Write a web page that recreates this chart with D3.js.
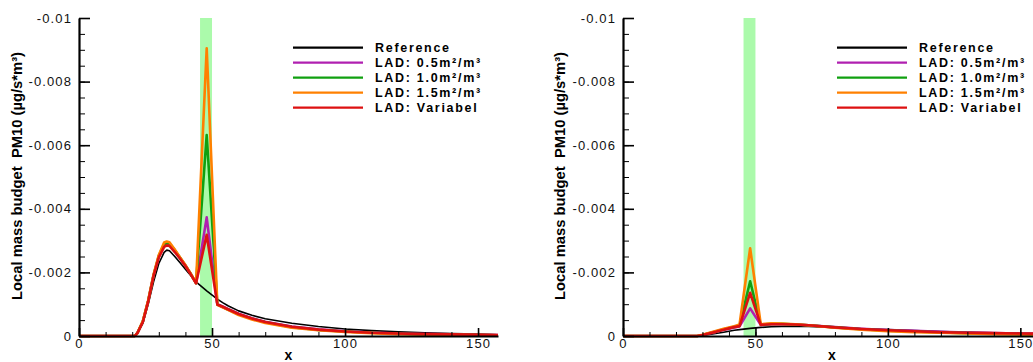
<!DOCTYPE html>
<html>
<head>
<meta charset="utf-8">
<script src="https://cdn.jsdelivr.net/npm/d3@7"></script>
<style>
html,body{margin:0;padding:0;background:#fff;}
svg{display:block;}
</style>
</head>
<body>
<svg id="chart" width="1033" height="362"></svg>
<script>
// ---------- DATA ----------
const seriesNames = ["Reference", "LAD: 0.5m²/m³", "LAD: 1.0m²/m³", "LAD: 1.5m²/m³", "LAD: Variabel"];
const seriesColors = ["#000000", "#b020b0", "#10a010", "#ff8000", "#dd1111"];

const yTickValues = [0, -0.002, -0.004, -0.006, -0.008, -0.01];
const xTickValues = [0, 50, 100, 150];
const yTitle = "Local mass budget\u00a0 PM10 (µg/s*m³)";
const xTitle = "x";

// Left panel
const xLeft = [0, 10, 20, 21, 22, 24, 26, 28, 30, 32, 33, 34, 36, 38, 40, 42, 44, 48, 52, 54, 56, 60, 65, 70, 80, 90, 100, 110, 120, 130, 140, 150, 157.5];
const refLeft    = [0, 0, 0, 0, -0.0001, -0.0004, -0.001, -0.0017, -0.00228, -0.00263, -0.0027, -0.00268, -0.0025, -0.0023, -0.0021, -0.0019, -0.0017, -0.00142, -0.00116, -0.00105, -0.00095, -0.00079, -0.00065, -0.00054, -0.0004, -0.0003, -0.00022, -0.00017, -0.00013, -0.0001, -0.00008, -0.00006, -0.00004];
const lad05Left  = [0, 0, 0, 0, -0.0001, -0.00045, -0.0011, -0.0019, -0.0025, -0.00285, -0.0029, -0.00288, -0.00268, -0.00245, -0.00222, -0.00195, -0.00166, -0.00373, -0.001, -0.00093, -0.00085, -0.0007, -0.00056, -0.00045, -0.0003, -0.00021, -0.00015, -0.00011, -0.00008, -0.00006, -0.00005, -0.00004, -0.00003];
const lad10Left  = [0, 0, 0, 0, -0.0001, -0.00046, -0.0011, -0.0019, -0.00252, -0.00289, -0.00293, -0.00291, -0.0027, -0.00246, -0.00222, -0.00195, -0.00166, -0.00632, -0.00099, -0.00091, -0.00083, -0.00068, -0.00054, -0.00043, -0.00028, -0.00019, -0.00014, -0.0001, -0.00007, -0.00005, -0.00004, -0.00003, -0.00002];
const lad15Left  = [0, 0, 0, 0, -0.0001, -0.00047, -0.00112, -0.00192, -0.00255, -0.00294, -0.00297, -0.00295, -0.00272, -0.00247, -0.00223, -0.00196, -0.00166, -0.00905, -0.00098, -0.0009, -0.00082, -0.00066, -0.00052, -0.00041, -0.00026, -0.00018, -0.00013, -0.00009, -0.00006, -0.00005, -0.00004, -0.00003, -0.00002];
const ladVarLeft = [0, 0, 0, 0, -0.0001, -0.00044, -0.00108, -0.00188, -0.00247, -0.0028, -0.00285, -0.00283, -0.00264, -0.00243, -0.0022, -0.00194, -0.00166, -0.00318, -0.00099, -0.00092, -0.00084, -0.00069, -0.00055, -0.00044, -0.00029, -0.0002, -0.00014, -0.0001, -0.00008, -0.00006, -0.00005, -0.00004, -0.00003];

// Right panel
const xRight = [0, 10, 20, 28, 30, 32, 35, 38, 40, 42, 44, 48, 52, 56, 60, 65, 70, 80, 90, 100, 110, 120, 130, 140, 150, 158];
const refRight    = [0, 0, 0, 0, -0.00002, -0.00004, -0.00008, -0.00012, -0.00015, -0.00018, -0.0002, -0.00024, -0.00027, -0.00029, -0.0003, -0.0003, -0.0003, -0.00027, -0.00023, -0.0002, -0.00017, -0.00014, -0.00012, -0.0001, -0.00008, -0.00007];
const lad05Right  = [0, 0, 0, 0, -0.00003, -0.00007, -0.00013, -0.0002, -0.00023, -0.00027, -0.0003, -0.00087, -0.00035, -0.00037, -0.00037, -0.00036, -0.00034, -0.00028, -0.00023, -0.00019, -0.00016, -0.00013, -0.00011, -0.00009, -0.00008, -0.00007];
const lad10Right  = [0, 0, 0, 0, -0.00003, -0.00008, -0.00014, -0.00021, -0.00025, -0.00029, -0.00033, -0.00172, -0.00036, -0.00038, -0.00038, -0.00036, -0.00034, -0.00027, -0.00021, -0.00017, -0.00014, -0.00011, -0.00009, -0.00007, -0.00006, -0.00005];
const lad15Right  = [0, 0, 0, 0, -0.00004, -0.00009, -0.00016, -0.00023, -0.00027, -0.00031, -0.00036, -0.00276, -0.00037, -0.0004, -0.00039, -0.00037, -0.00034, -0.00026, -0.0002, -0.00015, -0.00012, -0.0001, -0.00008, -0.00006, -0.00005, -0.00004];
const ladVarRight = [0, 0, 0, 0, -0.00003, -0.00007, -0.00013, -0.0002, -0.00024, -0.00028, -0.00031, -0.00136, -0.00035, -0.00037, -0.00037, -0.00036, -0.00034, -0.00027, -0.00022, -0.00018, -0.00015, -0.00012, -0.0001, -0.00009, -0.00008, -0.00007];

const canopyBand = [45.5, 50];

// ---------- DRAW ----------
const svg = d3.select("#chart");
const FONT = "'Liberation Sans', Arial, Helvetica, sans-serif";

function panel(cfg) {
  const g = svg.append("g");
  const x = d3.scaleLinear().domain([0, cfg.xMax]).range([cfg.x0, cfg.x1]);
  const y = d3.scaleLinear().domain([0, -0.01]).range([336, 18]);

  // canopy band
  g.append("rect")
    .attr("x", x(cfg.band[0])).attr("y", y(-0.01))
    .attr("width", x(cfg.band[1]) - x(cfg.band[0]))
    .attr("height", y(0) - y(-0.01))
    .attr("fill", "#abfaab");

  // lines
  const line = d3.line().x(d => x(d[0])).y(d => y(d[1]));
  cfg.series.forEach((vals, i) => {
    const pts = cfg.xs.map((xv, j) => [xv, vals[j]]);
    g.append("path").datum(pts)
      .attr("d", line)
      .attr("fill", "none")
      .attr("stroke", seriesColors[i])
      .attr("stroke-width", i === 0 ? 1.6 : 2.6)
      .attr("stroke-linejoin", "round");
  });

  // minor y ticks
  const yMinor = d3.range(0, 21).map(k => -k * 0.0005);
  g.append("g").attr("transform", `translate(${cfg.x0},0)`)
    .call(d3.axisLeft(y).tickValues(yMinor).tickSize(-6).tickFormat(""))
    .call(a => a.select(".domain").remove())
    .selectAll("line").attr("stroke-width", 1);
  // major y
  const yAx = g.append("g").attr("transform", `translate(${cfg.x0},0)`)
    .call(d3.axisLeft(y).tickValues(yTickValues).tickSizeInner(-11).tickSizeOuter(0).tickPadding(7)
      .tickFormat(v => v === 0 ? "0" : String(+v.toFixed(3))));
  yAx.select(".domain").attr("stroke-width", 2.2);
  yAx.selectAll(".tick line").attr("stroke-width", 1.6);
  yAx.selectAll("text").attr("font-family", FONT).attr("font-size", 13)
    .attr("letter-spacing", "1.1px").attr("fill", "#111");

  // minor x ticks
  const xMinor = d3.range(0, Math.floor(cfg.xMax / 10) + 1).map(k => k * 10);
  g.append("g").attr("transform", "translate(0,336)")
    .call(d3.axisBottom(x).tickValues(xMinor).tickSize(-4).tickFormat(""))
    .call(a => a.select(".domain").remove())
    .selectAll("line").attr("stroke-width", 1);
  const xAx = g.append("g").attr("transform", "translate(0,336)")
    .call(d3.axisBottom(x).tickValues(xTickValues).tickSizeInner(-8).tickSizeOuter(0).tickPadding(3));
  xAx.select(".domain").attr("stroke-width", 2.2);
  xAx.selectAll(".tick line").attr("stroke-width", 1.6);
  xAx.selectAll("text").attr("font-family", FONT).attr("font-size", 13)
    .attr("letter-spacing", "1.1px").attr("fill", "#111");

  // axis titles
  g.append("text")
    .attr("transform", `translate(${cfg.yLabelX},176) rotate(-90)`)
    .attr("text-anchor", "middle")
    .attr("font-family", FONT).attr("font-weight", "bold").attr("font-size", 14.5)
    .attr("textLength", 248).attr("lengthAdjust", "spacingAndGlyphs")
    .text(yTitle);
  g.append("text")
    .attr("x", (cfg.x0 + cfg.x1) / 2).attr("y", 360)
    .attr("text-anchor", "middle")
    .attr("font-family", FONT).attr("font-weight", "bold").attr("font-size", 14)
    .text(xTitle);

  // legend
  seriesNames.forEach((name, i) => {
    const ly = 47.7 + i * 15;
    g.append("line")
      .attr("x1", cfg.legX).attr("x2", cfg.legX + 70)
      .attr("y1", ly).attr("y2", ly)
      .attr("stroke", seriesColors[i]).attr("stroke-width", 2.2);
    g.append("text")
      .attr("x", cfg.legX + 82).attr("y", ly + 4.5)
      .attr("font-family", FONT).attr("font-weight", "bold").attr("font-size", 12.5)
      .attr("letter-spacing", "1.7px")
      .text(name);
  });
}

panel({
  x0: 79, x1: 498, xMax: 157.5, band: canopyBand, xs: xLeft,
  series: [refLeft, lad05Left, lad10Left, lad15Left, ladVarLeft],
  yLabelX: 22, legX: 293
});
panel({
  x0: 623, x1: 1041, xMax: 157.8, band: canopyBand, xs: xRight,
  series: [refRight, lad05Right, lad10Right, lad15Right, ladVarRight],
  yLabelX: 565, legX: 837
});
</script>
</body>
</html>
